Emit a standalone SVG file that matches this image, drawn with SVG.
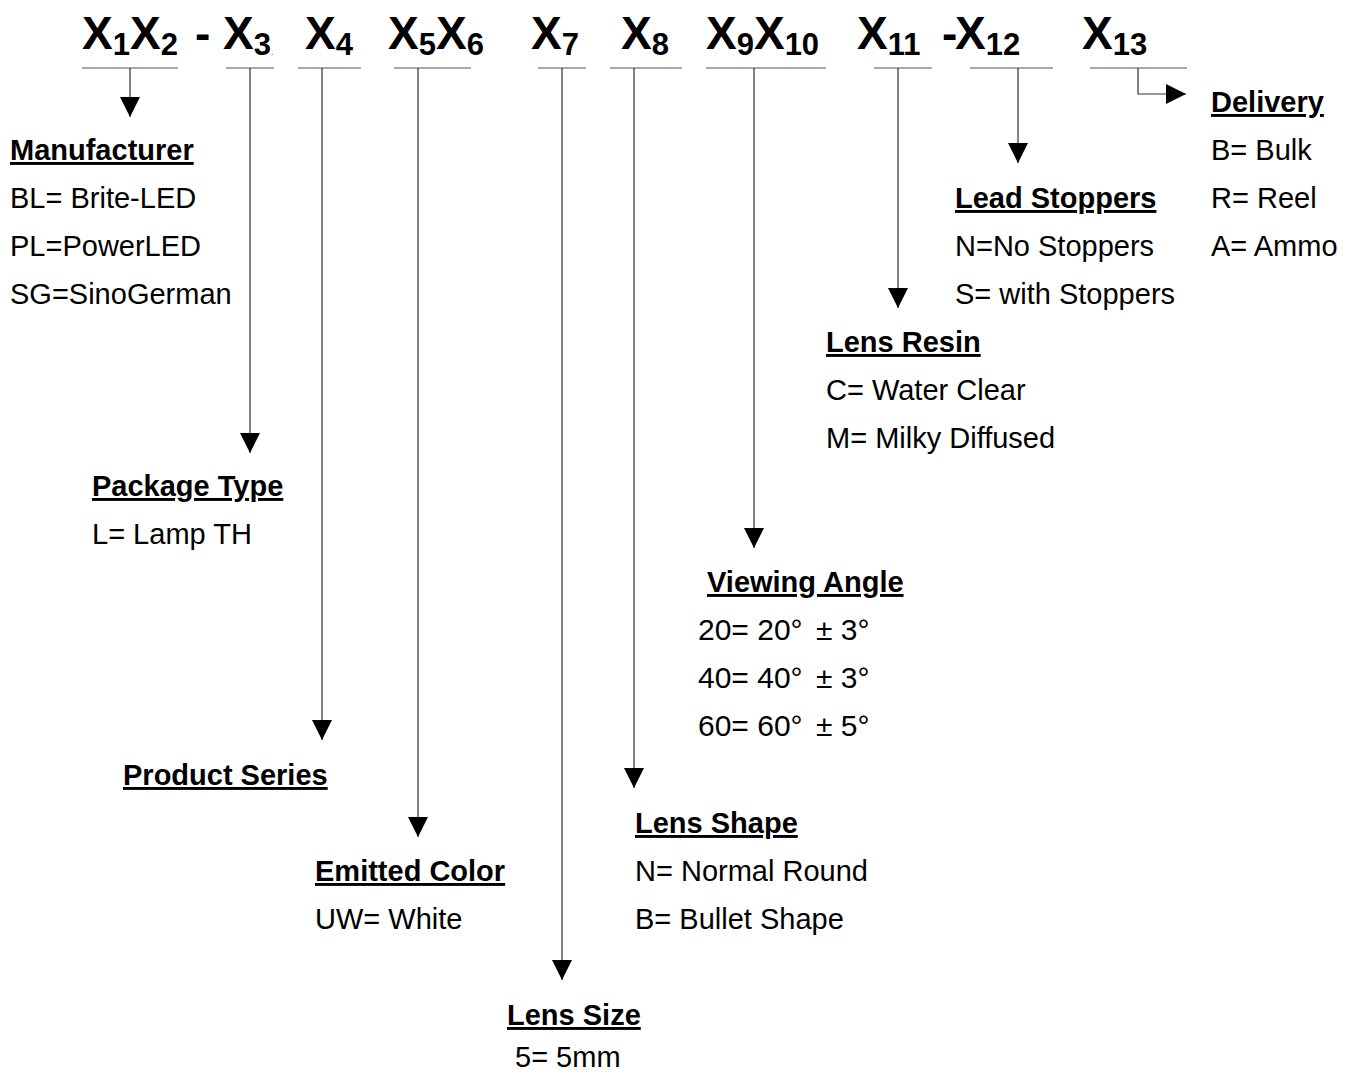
<svg xmlns="http://www.w3.org/2000/svg" width="1351" height="1074" viewBox="0 0 1351 1074">
<style>
.hx{font-family:"Liberation Sans",Arial,sans-serif;font-weight:bold;font-size:46px;fill:#000}
.hs{font-size:31px}
.t{font-family:"Liberation Sans",Arial,sans-serif;font-size:29px;fill:#000}
.va{font-size:30px}
.b{font-weight:bold;text-decoration:underline}
.ul{stroke:#555;stroke-width:1.2;fill:none}
.ln{stroke:#333;stroke-width:1.2;fill:none}
</style>
<defs>
<marker id="ah" markerUnits="userSpaceOnUse" markerWidth="22" markerHeight="22" viewBox="0 0 22 22" refX="21" refY="11" orient="auto">
<path d="M1,1 L21,11 L1,21 Z" fill="#000"/>
</marker>
</defs>
<rect width="1351" height="1074" fill="#fff"/>
<g id="header">
<text class="hx" x="82" y="49">X<tspan class="hs" dy="6">1</tspan><tspan dy="-6">X</tspan><tspan class="hs" dy="6">2</tspan></text>
<text class="hx" x="195" y="49">-</text>
<text class="hx" x="223" y="49">X<tspan class="hs" dy="6">3</tspan><tspan font-size="8" font-weight="normal">.</tspan></text>
<text class="hx" x="305" y="49">X<tspan class="hs" dy="6">4</tspan></text>
<text class="hx" x="388" y="49">X<tspan class="hs" dy="6">5</tspan><tspan dy="-6">X</tspan><tspan class="hs" dy="6">6</tspan></text>
<text class="hx" x="531" y="49">X<tspan class="hs" dy="6">7</tspan></text>
<text class="hx" x="621" y="49">X<tspan class="hs" dy="6">8</tspan></text>
<text class="hx" x="706" y="49">X<tspan class="hs" dy="6">9</tspan><tspan dy="-6">X</tspan><tspan class="hs" dy="6">10</tspan></text>
<text class="hx" x="857" y="49">X<tspan class="hs" dy="6">11</tspan></text>
<text class="hx" x="942" y="49">-</text>
<text class="hx" x="955" y="49">X<tspan class="hs" dy="6">12</tspan></text>
<text class="hx" x="1082" y="49">X<tspan class="hs" dy="6">13</tspan></text>
</g>
<g id="connectors">
<path class="ul" d="M82,68 H178 M226,68 H274 M298,68 H361 M394,68 H471 M538,68 H586 M610,68 H682 M706,68 H826 M874,68 H932 M970,68 H1053 M1090,68 H1187"/>
<path class="ln" d="M130,68 V117" marker-end="url(#ah)"/>
<path class="ln" d="M250,68 V453" marker-end="url(#ah)"/>
<path class="ln" d="M322,68 V740" marker-end="url(#ah)"/>
<path class="ln" d="M418,68 V837" marker-end="url(#ah)"/>
<path class="ln" d="M562,68 V980" marker-end="url(#ah)"/>
<path class="ln" d="M634,68 V788" marker-end="url(#ah)"/>
<path class="ln" d="M754,68 V548" marker-end="url(#ah)"/>
<path class="ln" d="M898,68 V308" marker-end="url(#ah)"/>
<path class="ln" d="M1018,68 V163" marker-end="url(#ah)"/>
<path class="ln" d="M1138,68 V94 H1186" marker-end="url(#ah)"/>
</g>
<g id="manufacturer">
<text class="t b" x="10" y="160">Manufacturer</text>
<text class="t" x="10" y="208">BL= Brite-LED</text>
<text class="t" x="10" y="256">PL=PowerLED</text>
<text class="t" x="10" y="304">SG=SinoGerman</text>
</g>
<g id="package-type">
<text class="t b" x="92" y="496">Package Type</text>
<text class="t" x="92" y="544">L= Lamp TH</text>
</g>
<g id="product-series">
<text class="t b" x="123" y="785">Product Series</text>
</g>
<g id="emitted-color">
<text class="t b" x="315" y="881">Emitted Color</text>
<text class="t" x="315" y="929">UW= White</text>
</g>
<g id="lens-size">
<text class="t b" x="507" y="1025">Lens Size</text>
<text class="t" x="515" y="1067">5= 5mm</text>
</g>
<g id="lens-shape">
<text class="t b" x="635" y="833">Lens Shape</text>
<text class="t" x="635" y="881">N= Normal Round</text>
<text class="t" x="635" y="929">B= Bullet Shape</text>
</g>
<g id="viewing-angle">
<text class="t b" x="707" y="592">Viewing Angle</text>
<text class="t va" x="698" y="640">20= 20°<tspan x="816">± 3°</tspan></text>
<text class="t va" x="698" y="688">40= 40°<tspan x="816">± 3°</tspan></text>
<text class="t va" x="698" y="736">60= 60°<tspan x="816">± 5°</tspan></text>
</g>
<g id="lens-resin">
<text class="t b" x="826" y="352">Lens Resin</text>
<text class="t" x="826" y="400">C= Water Clear</text>
<text class="t" x="826" y="448">M= Milky Diffused</text>
</g>
<g id="lead-stoppers">
<text class="t b" x="955" y="208">Lead Stoppers</text>
<text class="t" x="955" y="256">N=No Stoppers</text>
<text class="t" x="955" y="304">S= with Stoppers</text>
</g>
<g id="delivery">
<text class="t b" x="1211" y="112">Delivery</text>
<text class="t" x="1211" y="160">B= Bulk</text>
<text class="t" x="1211" y="208">R= Reel</text>
<text class="t" x="1211" y="256">A= Ammo</text>
</g>
</svg>
